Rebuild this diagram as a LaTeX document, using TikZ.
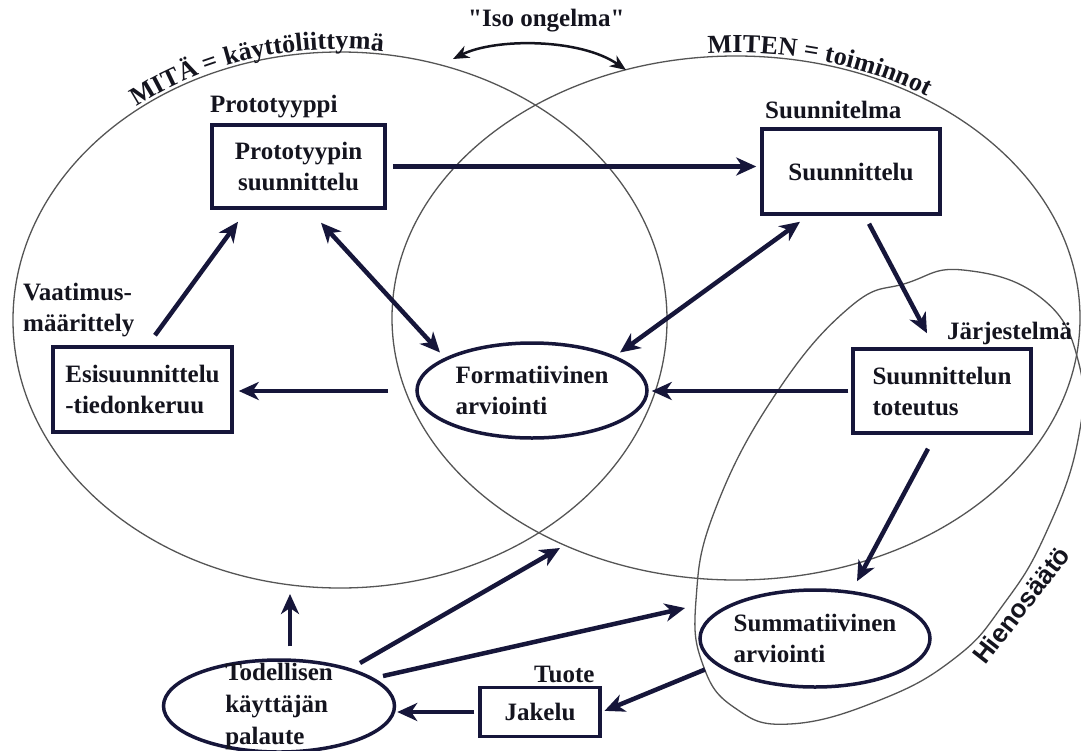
\documentclass[tikz,border=0pt]{standalone}
\usepackage{fontspec}
\setmainfont{Liberation Serif}
\newfontfamily\hsans{Liberation Sans}
\newfontfamily\rawserif{Liberation Serif}[Ligatures=TeXOff]
\usetikzlibrary{arrows.meta,shapes.geometric,decorations.text,calc}
\definecolor{navy}{RGB}{22,22,58}
\definecolor{ink}{RGB}{20,20,30}
\definecolor{thinline}{RGB}{85,85,85}
\begin{document}
\begin{tikzpicture}[x=1pt,y=-1pt,
  every node/.style={font=\bfseries\fontsize{25}{31}\selectfont, text=ink},
  box/.style={draw=navy, line width=3.5pt, inner sep=0pt, rectangle},
  oval/.style={draw=navy, line width=3.5pt, ellipse, inner sep=0pt},
  lbl/.style={inner sep=0pt, anchor=base west},
  arr/.style={draw=navy, line width=4.5pt, -{Stealth[length=20pt,width=18pt,inset=6pt]}},
  darr/.style={draw=navy, line width=4.5pt, {Stealth[length=20pt,width=18pt,inset=6pt]}-{Stealth[length=20pt,width=18pt,inset=6pt]}},
  isoarr/.style={draw=ink, line width=2.5pt, {Stealth[length=16pt,width=13pt,inset=5pt]}-{Stealth[length=16pt,width=13pt,inset=5pt]}},
  region/.style={draw=thinline, line width=1.3pt}
]
\fill[white] (0,0) rectangle (1081,750);
\useasboundingbox (0,0) rectangle (1081,750);

% big regions
\coordinate (mitaC) at (340,320);
\coordinate (mitenC) at (736,318);
\draw[region] (mitaC) ellipse [x radius=327pt, y radius=268pt];
\draw[region] (mitenC) ellipse [x radius=344pt, y radius=262pt];
\draw[region] plot[smooth cycle, tension=0.75] coordinates {(963,270) (1040,297) (1078,360) (1078,440) (1045,535) (1003,605) (955,658) (880,700) (790,724) (735,708) (703,665) (696,600) (715,510) (775,395) (850,307) (907,283)};

% curved region titles
\path[decorate, decoration={text along path, text color=ink, text align=center, raise=3pt,
  text={|\bfseries\fontsize{26}{26}\selectfont|MITÄ = käyttöliittymä}}]
  ($(mitaC)+(133:327pt and 268pt)$) arc[start angle=133, end angle=78, x radius=327pt, y radius=268pt];
\path[decorate, decoration={text along path, text color=ink, text align=center, raise=3pt,
  text={|\bfseries\fontsize{26}{26}\selectfont|MITEN = toiminnot}}]
  ($(mitenC)+(98:344pt and 262pt)$) arc[start angle=98, end angle=53, x radius=344pt, y radius=262pt];
\node[font=\hsans\bfseries\fontsize{26}{26}\selectfont, rotate=52, inner sep=0pt] (hienoL) at (1021,605) {Hienosäätö};

% boxes
\node[box, minimum width=173pt, minimum height=83pt, align=center] (proto) at (298.5,166.5) {Prototyypin\\suunnittelu};
\node[box, minimum width=178pt, minimum height=85pt] (suun) at (851,171.5) {Suunnittelu};
\node[box, minimum width=179pt, minimum height=85pt, align=left] (esi) at (142.5,389.5) {Esisuunnittelu\\-tiedonkeruu};
\node[box, minimum width=178pt, minimum height=84pt, align=left] (tot) at (942,391) {Suunnittelun\\toteutus};
\node[box, minimum width=120pt, minimum height=49pt] (jak) at (540,712) {Jakelu};

% ovals
\node[oval, minimum width=230pt, minimum height=95pt] (form) at (532,390.5) {};
\node[align=left, inner sep=0pt] (formT) at (form.center) {Formatiivinen\\arviointi};
\node[oval, minimum width=230pt, minimum height=97pt] (summ) at (815,638.5) {};
\node[align=left, inner sep=0pt] (summT) at (summ.center) {Summatiivinen\\arviointi};
\node[oval, minimum width=231pt, minimum height=92pt] (tod) at (279,706) {};
\node[align=left, inner sep=0pt, font=\bfseries\fontsize{25}{32}\selectfont] (todT) at (tod.center) {Todellisen\\käyttäjän\\palaute};

% labels
\node[lbl] (protoL) at (210,112) {Prototyyppi};
\node[lbl] (suunL) at (765,118) {Suunnitelma};
\node[lbl] (jarjL) at (947,339) {Järjestelmä};
\node[lbl] (tuoteL) at (534,682) {Tuote};
\node[lbl, font=\rawserif\bfseries\fontsize{25}{31}\selectfont] (isoL) at (468,26) {"Iso ongelma"};
\node[inner sep=0pt, anchor=north west, align=left] (vaatL) at (23,283) {Vaatimus-\\määrittely};

% connectors
\draw[arr, shorten <=6pt, shorten >=4pt] (proto.east) -- (proto.east -| suun.west);
\draw[arr] ([xshift=12.5pt,yshift=10pt]esi.north) -- ([xshift=-60.5pt,yshift=-12pt]proto.south);
\coordinate (fromForm) at (388,391);
\draw[arr, shorten >=5pt] (fromForm) -- (fromForm -| esi.east);
\draw[darr] ([xshift=22.5pt,yshift=-13pt]proto.south) -- ([xshift=-92pt,yshift=38pt]form.center);
\draw[darr] ([xshift=-51pt,yshift=-6pt]suun.south) -- ([xshift=88pt,yshift=38pt]form.center);
\draw[arr] ([xshift=18pt,yshift=-8pt]suun.south) -- ([xshift=-15pt,yshift=14pt]tot.north);
\draw[arr, shorten <=3pt, shorten >=3pt] (tot.west) -- (tot.west -| form.east);
\draw[arr] ([xshift=-14pt,yshift=-14pt]tot.south) -- ([xshift=42pt,yshift=7pt]summ.north);
\draw[arr, shorten >=3pt] ([xshift=-110pt,yshift=-31pt]summ.center) -- (jak.east);
\draw[arr, shorten <=4pt, shorten >=1pt] (jak.west) -- (jak.west -| tod.east);
\coordinate (upEnd) at (290,594);
\draw[arr] ([xshift=11pt,yshift=12pt]tod.north) -- (upEnd);
\coordinate (fbA) at (560,548);
\draw[arr] ([xshift=81pt,yshift=43pt]tod.center) -- (fbA);
\coordinate (fbB) at (685,608);
\draw[arr] ([xshift=104pt,yshift=30pt]tod.center) -- (fbB);
\coordinate (isoA) at (453,59);
\coordinate (isoB) at (626,70);
\draw[isoarr] (isoA) .. controls (495,38) and (580,38) .. (isoB);
\end{tikzpicture}
\end{document}
